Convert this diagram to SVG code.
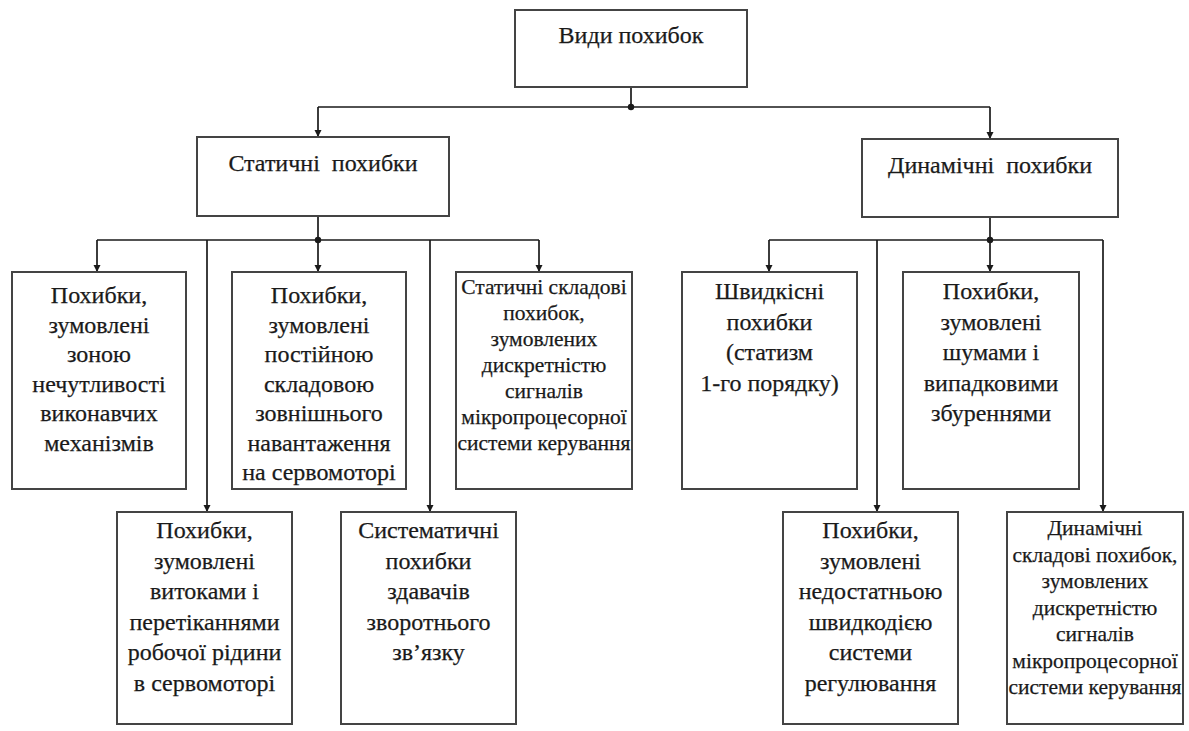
<svg xmlns="http://www.w3.org/2000/svg" width="1189" height="731" viewBox="0 0 1189 731">
<defs>
<marker id="arr" viewBox="0 0 10 10" refX="10" refY="5" markerWidth="7" markerHeight="9" markerUnits="userSpaceOnUse" orient="auto">
<path d="M0,0 L10,5 L0,10 z" fill="#1a1a1a"/>
</marker>
<style>
.box{fill:#fff;stroke:#444;stroke-width:2}
.t{font-family:"Liberation Serif","Times New Roman",serif;font-size:24px;fill:#1a1a1a;stroke:#1a1a1a;stroke-width:0.25;text-anchor:middle}
.s{font-family:"Liberation Serif","Times New Roman",serif;font-size:21.5px;fill:#1a1a1a;stroke:#1a1a1a;stroke-width:0.25;text-anchor:middle}
.c{fill:none;stroke:#1a1a1a;stroke-width:1.7}
.a{fill:none;stroke:#1a1a1a;stroke-width:1.7;marker-end:url(#arr)}
</style>
</defs>
<rect width="1189" height="731" fill="#fff"/>
<g id="connectors">
<path class="c" d="M631,87 V107 M318,107 H990"/>
<path class="a" d="M318,107 V137"/>
<path class="a" d="M990,107 V139"/>
<circle cx="631" cy="107" r="3.2" fill="#1a1a1a"/>
<path class="c" d="M318,216 V240 M97,240 H539"/>
<circle cx="318" cy="240" r="3.2" fill="#1a1a1a"/>
<path class="a" d="M97,240 V272"/>
<path class="a" d="M318,240 V272"/>
<path class="a" d="M539,240 V272"/>
<path class="a" d="M207,240 V512"/>
<path class="a" d="M430,240 V512"/>
<path class="c" d="M990,217 V240 M769,240 H1103"/>
<circle cx="990" cy="240" r="3.2" fill="#1a1a1a"/>
<path class="a" d="M769,240 V272"/>
<path class="a" d="M990,240 V272"/>
<path class="a" d="M877,240 V512"/>
<path class="a" d="M1103,240 V512"/>
</g>
<g id="root">
<rect class="box" x="515" y="10" width="232" height="77"/>
<text class="t" x="631" y="43">Види похибок</text>
</g>
<g id="static">
<rect class="box" x="197" y="137" width="252" height="79"/>
<text class="t" x="323" y="171" xml:space="preserve">Статичні  похибки</text>
</g>
<g id="dynamic">
<rect class="box" x="862" y="139" width="256" height="78"/>
<text class="t" x="990" y="173" xml:space="preserve">Динамічні  похибки</text>
</g>
<g id="s1">
<rect class="box" x="12" y="272" width="174" height="217"/>
<text class="t"><tspan x="99" y="303">Похибки,</tspan><tspan x="99" y="332.5">зумовлені</tspan><tspan x="99" y="362">зоною</tspan><tspan x="99" y="391.5">нечутливості</tspan><tspan x="99" y="421">виконавчих</tspan><tspan x="99" y="450.5">механізмів</tspan></text>
</g>
<g id="s2">
<rect class="box" x="232" y="272" width="174" height="217"/>
<text class="t"><tspan x="319" y="303">Похибки,</tspan><tspan x="319" y="332.5">зумовлені</tspan><tspan x="319" y="362">постійною</tspan><tspan x="319" y="391.5">складовою</tspan><tspan x="319" y="421">зовнішнього</tspan><tspan x="319" y="450.5">навантаження</tspan><tspan x="319" y="480">на сервомоторі</tspan></text>
</g>
<g id="s3">
<rect class="box" x="456" y="272" width="176" height="217"/>
<text class="s"><tspan x="544" y="294">Статичні складові</tspan><tspan x="544" y="320">похибок,</tspan><tspan x="544" y="346">зумовлених</tspan><tspan x="544" y="372">дискретністю</tspan><tspan x="544" y="398">сигналів</tspan><tspan x="544" y="424">мікропроцесорної</tspan><tspan x="544" y="450">системи керування</tspan></text>
</g>
<g id="s4">
<rect class="box" x="117" y="512" width="175" height="212"/>
<text class="t"><tspan x="204.5" y="538">Похибки,</tspan><tspan x="204.5" y="568.5">зумовлені</tspan><tspan x="204.5" y="599">витоками і</tspan><tspan x="204.5" y="629.5">перетіканнями</tspan><tspan x="204.5" y="660">робочої рідини</tspan><tspan x="204.5" y="690.5">в сервомоторі</tspan></text>
</g>
<g id="s5">
<rect class="box" x="341" y="512" width="175" height="212"/>
<text class="t"><tspan x="428.5" y="538">Систематичні</tspan><tspan x="428.5" y="568.5">похибки</tspan><tspan x="428.5" y="599">здавачів</tspan><tspan x="428.5" y="629.5">зворотнього</tspan><tspan x="428.5" y="660">зв’язку</tspan></text>
</g>
<g id="d1">
<rect class="box" x="682" y="272" width="175" height="217"/>
<text class="t"><tspan x="769.5" y="299">Швидкісні</tspan><tspan x="769.5" y="329.5">похибки</tspan><tspan x="769.5" y="360">(статизм</tspan><tspan x="769.5" y="390.5">1-го порядку)</tspan></text>
</g>
<g id="d2">
<rect class="box" x="903" y="272" width="176" height="217"/>
<text class="t"><tspan x="991" y="299">Похибки,</tspan><tspan x="991" y="329.5">зумовлені</tspan><tspan x="991" y="360">шумами і</tspan><tspan x="991" y="390.5">випадковими</tspan><tspan x="991" y="421">збуреннями</tspan></text>
</g>
<g id="d3">
<rect class="box" x="783" y="512" width="175" height="212"/>
<text class="t"><tspan x="870.5" y="538">Похибки,</tspan><tspan x="870.5" y="568.5">зумовлені</tspan><tspan x="870.5" y="599">недостатньою</tspan><tspan x="870.5" y="629.5">швидкодією</tspan><tspan x="870.5" y="660">системи</tspan><tspan x="870.5" y="690.5">регулювання</tspan></text>
</g>
<g id="d4">
<rect class="box" x="1007" y="512" width="176" height="212"/>
<text class="s"><tspan x="1095" y="535">Динамічні</tspan><tspan x="1095" y="561.5">складові похибок,</tspan><tspan x="1095" y="588">зумовлених</tspan><tspan x="1095" y="614.5">дискретністю</tspan><tspan x="1095" y="641">сигналів</tspan><tspan x="1095" y="667.5">мікропроцесорної</tspan><tspan x="1095" y="694">системи керування</tspan></text>
</g>
</svg>
